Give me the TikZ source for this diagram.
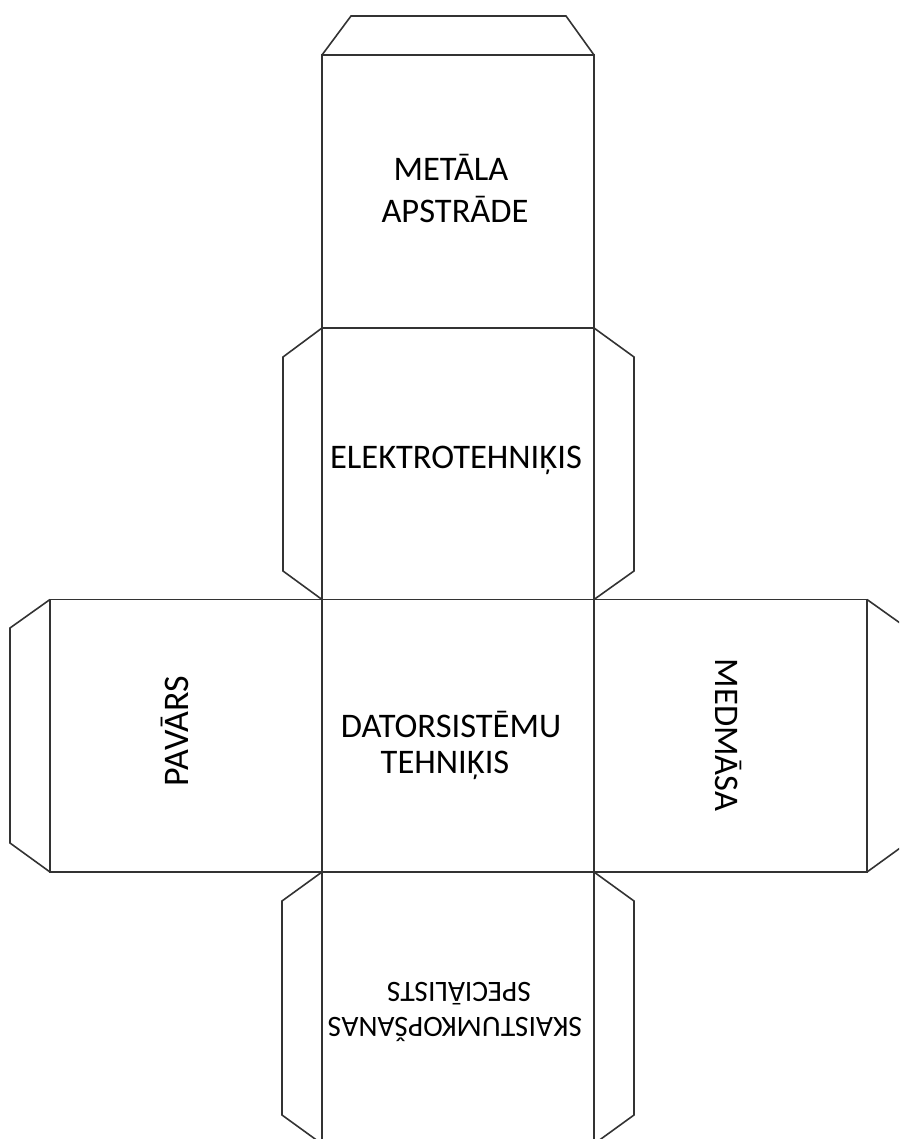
\documentclass[tikz,border=0pt]{standalone}
\usepackage{fontspec}
\setmainfont{Carlito}
\begin{document}
\begin{tikzpicture}[x=1pt,y=-1pt,
  edge/.style={draw=black!80,line width=1.6pt,line join=miter},
  lbl/.style={inner sep=0pt,anchor=base,text=black,font=\fontsize{34.5}{40}\selectfont},
  lblsmall/.style={lbl,font=\fontsize{29.5}{36}\selectfont}]
\useasboundingbox (0,0) rectangle (899,1139);
\clip (0,0) rectangle (899,1139);
% faces
\draw[edge] (322,55) rectangle (594,328);
\draw[edge] (322,328) rectangle (594,599.5);
\draw[edge] (322,599.5) rectangle (594,872);
\draw[edge] (322,872) rectangle (594,1144);
\draw[edge] (50,599.5) rectangle (322,872);
\draw[edge] (594,599.5) rectangle (867,872);
% flaps
\draw[edge] (322,55) -- (351,16) -- (566,16) -- (594,55);
\draw[edge] (322,328) -- (283,357) -- (283,571) -- (322,599.5);
\draw[edge] (594,328) -- (634,357) -- (634,571) -- (594,599.5);
\draw[edge] (50,599.5) -- (10,628) -- (10,843) -- (50,872);
\draw[edge] (867,599.5) -- (907,628) -- (907,843) -- (867,872);
\draw[edge] (322,872) -- (282,901) -- (282,1115) -- (322,1144);
\draw[edge] (594,872) -- (634,901) -- (634,1115) -- (594,1144);
% labels
\node[lbl] (t1) at (451,181) {METĀLA};
\node[lbl] (t2) at (455,223) {APSTRĀDE};
\node[lbl] (e1) at (456,468) {ELEKTROTEHNIĶIS};
\node[lbl] (c1) at (451,737) {DATORSISTĒMU};
\node[lbl] (c2) at (445,773) {TEHNIĶIS};
\node[lbl,rotate=90,font=\fontsize{36}{40}\selectfont] (l1) at (188,731) {PAVĀRS};
\node[lbl,rotate=-90] (r1) at (715,735) {MEDMĀSA};
\node[lblsmall,rotate=180] (b1) at (459,982) {SPECIĀLISTS};
\node[lblsmall,rotate=180] (b2) at (455,1017) {SKAISTUMKOPŠANAS};
\end{tikzpicture}
\end{document}
